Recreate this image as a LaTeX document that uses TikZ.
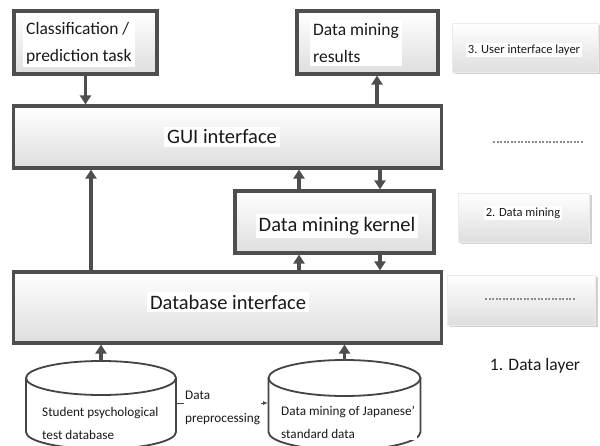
\documentclass[tikz,border=0pt]{standalone}
\usepackage{fontspec}
\setmainfont{Carlito}
\usetikzlibrary{arrows.meta,shadows}
\definecolor{edgec}{HTML}{4E4E4E}
\definecolor{shadec}{HTML}{DEDEDE}
\definecolor{cylc}{HTML}{444444}
\definecolor{txtc}{HTML}{1A1A1A}
\tikzset{
  box/.style={draw=edgec, line width=3.2pt, top color=white, bottom color=shadec, inner sep=0pt},
  layerbox/.style={top color=white, bottom color=shadec, inner sep=0pt, draw=black!8, line width=0.5pt,
    drop shadow={shadow xshift=2.5pt, shadow yshift=-2.5pt, fill=black!30, opacity=0.6}},
  bigtxt/.style={fill=white, inner sep=3pt, text=txtc, font=\fontsize{20.5}{24}\selectfont},
  midtxt/.style={fill=white, inner sep=3pt, text=txtc, align=left, font=\fontsize{17.5}{27}\selectfont},
  smalltxt/.style={fill=white, inner sep=2pt, text=txtc, font=\fontsize{12.5}{15}\selectfont},
  cyltxt/.style={fill=white, inner sep=2pt, text=txtc, align=left, font=\fontsize{13.2}{23}\selectfont},
  conn/.style={draw=edgec, line width=3.2pt, -{Triangle[width=11pt,length=9pt]}},
  cylline/.style={draw=cylc, line width=1.8pt, fill=white},
  anchorbox/.style={inner sep=0pt, minimum width=150pt, minimum height=78pt},
  dotline/.style={draw=black!45, line width=2.6pt, dash pattern=on 2pt off 1.5pt},
  thinarrow/.style={draw=cylc, line width=1pt, -{Latex[length=5pt,width=4pt]}}
}
\begin{document}
\begin{tikzpicture}[x=1pt,y=-1pt]
\useasboundingbox (0,0) rectangle (600,446);
\clip (0,0) rectangle (600,446);
\fill[white] (0,0) rectangle (600,446);

% main boxes
\node[box, minimum width=143pt, minimum height=63pt] (cls) at (85.5,42.5) {};
\node[midtxt, anchor=west] (clst) at (23,43) {Classification /\\prediction task};
\node[box, minimum width=141pt, minimum height=63pt] (res) at (367.5,42.5) {};
\node[midtxt, anchor=west] (rest) at (310,43) {Data mining\\results};
\node[box, minimum width=428pt, minimum height=62pt] (gui) at (227.5,137) {};
\node[bigtxt] (guit) at (222,137) {GUI interface};
\node[box, minimum width=199pt, minimum height=62pt] (ker) at (334.5,222) {};
\node[bigtxt] (kert) at (337,226) {Data mining kernel};
\node[box, minimum width=428pt, minimum height=71pt] (dbi) at (227.5,307.5) {};
\node[bigtxt] (dbit) at (228,302) {Database interface};

% right-hand layer labels
\node[layerbox, minimum width=146pt, minimum height=49pt] (l3) at (525,47.5) {};
\node[smalltxt] (l3t) at (524,50) {3. User interface layer};
\coordinate (d1a) at (493,142);
\coordinate (d1b) at (583,142);
\draw[dotline] (d1a) -- (d1b);
\node[layerbox, minimum width=131pt, minimum height=49pt] (l2) at (523.5,217.5) {};
\node[smalltxt] (l2t) at (523,213) {2. Data mining};
\node[layerbox, minimum width=148pt, minimum height=50pt] (l1) at (521,300) {};
\coordinate (d2a) at (485,299);
\coordinate (d2b) at (575,299);
\draw[dotline] (d2a) -- (d2b);
\node[text=txtc, font=\fontsize{17.5}{20}\selectfont] (l1t) at (535,366) {1. Data layer};

% cylinders
\draw[cylline] (26,378) -- (26,432) arc[start angle=180, end angle=360, x radius=75pt, y radius=17pt] -- (176,378);
\draw[cylline] (101,378) ellipse [x radius=75pt, y radius=17pt];
\node[anchorbox] (cyl1) at (101,400) {};
\draw[cylline] (268.5,378) -- (268.5,432) arc[start angle=180, end angle=360, x radius=76pt, y radius=18pt] -- (420.5,378);
\draw[cylline] (344.5,378) ellipse [x radius=76pt, y radius=18pt];
\node[anchorbox, minimum width=152pt] (cyl2) at (344.5,400) {};
\node[cyltxt, anchor=west] (c1t) at (40,423) {Student psychological\\test database};
\node[cyltxt, anchor=west] (c2t) at (279,422) {Data mining of Japanese'\\standard data};

% data preprocessing
\coordinate (pa) at (176.5,403);
\coordinate (pb) at (268,403);
\draw[thinarrow] (pa) -- (pb);
\node[cyltxt, anchor=west, inner sep=1pt] (pre) at (184,408) {Data\\preprocessing};

% connectors
\draw[conn] (cls.south) -- (cls.south |- gui.north);
\draw[conn] ([xshift=9.5pt]res.south |- gui.north) -- ([xshift=9.5pt]res.south);
\draw[conn] ([xshift=-136.5pt]dbi.north) -- ([xshift=-136.5pt]gui.south);
\draw[conn] ([xshift=-35.5pt]ker.north) -- ([xshift=-35.5pt]ker.north |- gui.south);
\draw[conn] ([xshift=45.5pt]ker.north |- gui.south) -- ([xshift=45.5pt]ker.north);
\draw[conn] ([xshift=-35.5pt]ker.south |- dbi.north) -- ([xshift=-35.5pt]ker.south);
\draw[conn] ([xshift=45.5pt]ker.south) -- ([xshift=45.5pt]ker.south |- dbi.north);
\draw[conn] (cyl1.north) -- (cyl1.north |- dbi.south);
\draw[conn] (cyl2.north) -- (cyl2.north |- dbi.south);
\end{tikzpicture}
\end{document}
